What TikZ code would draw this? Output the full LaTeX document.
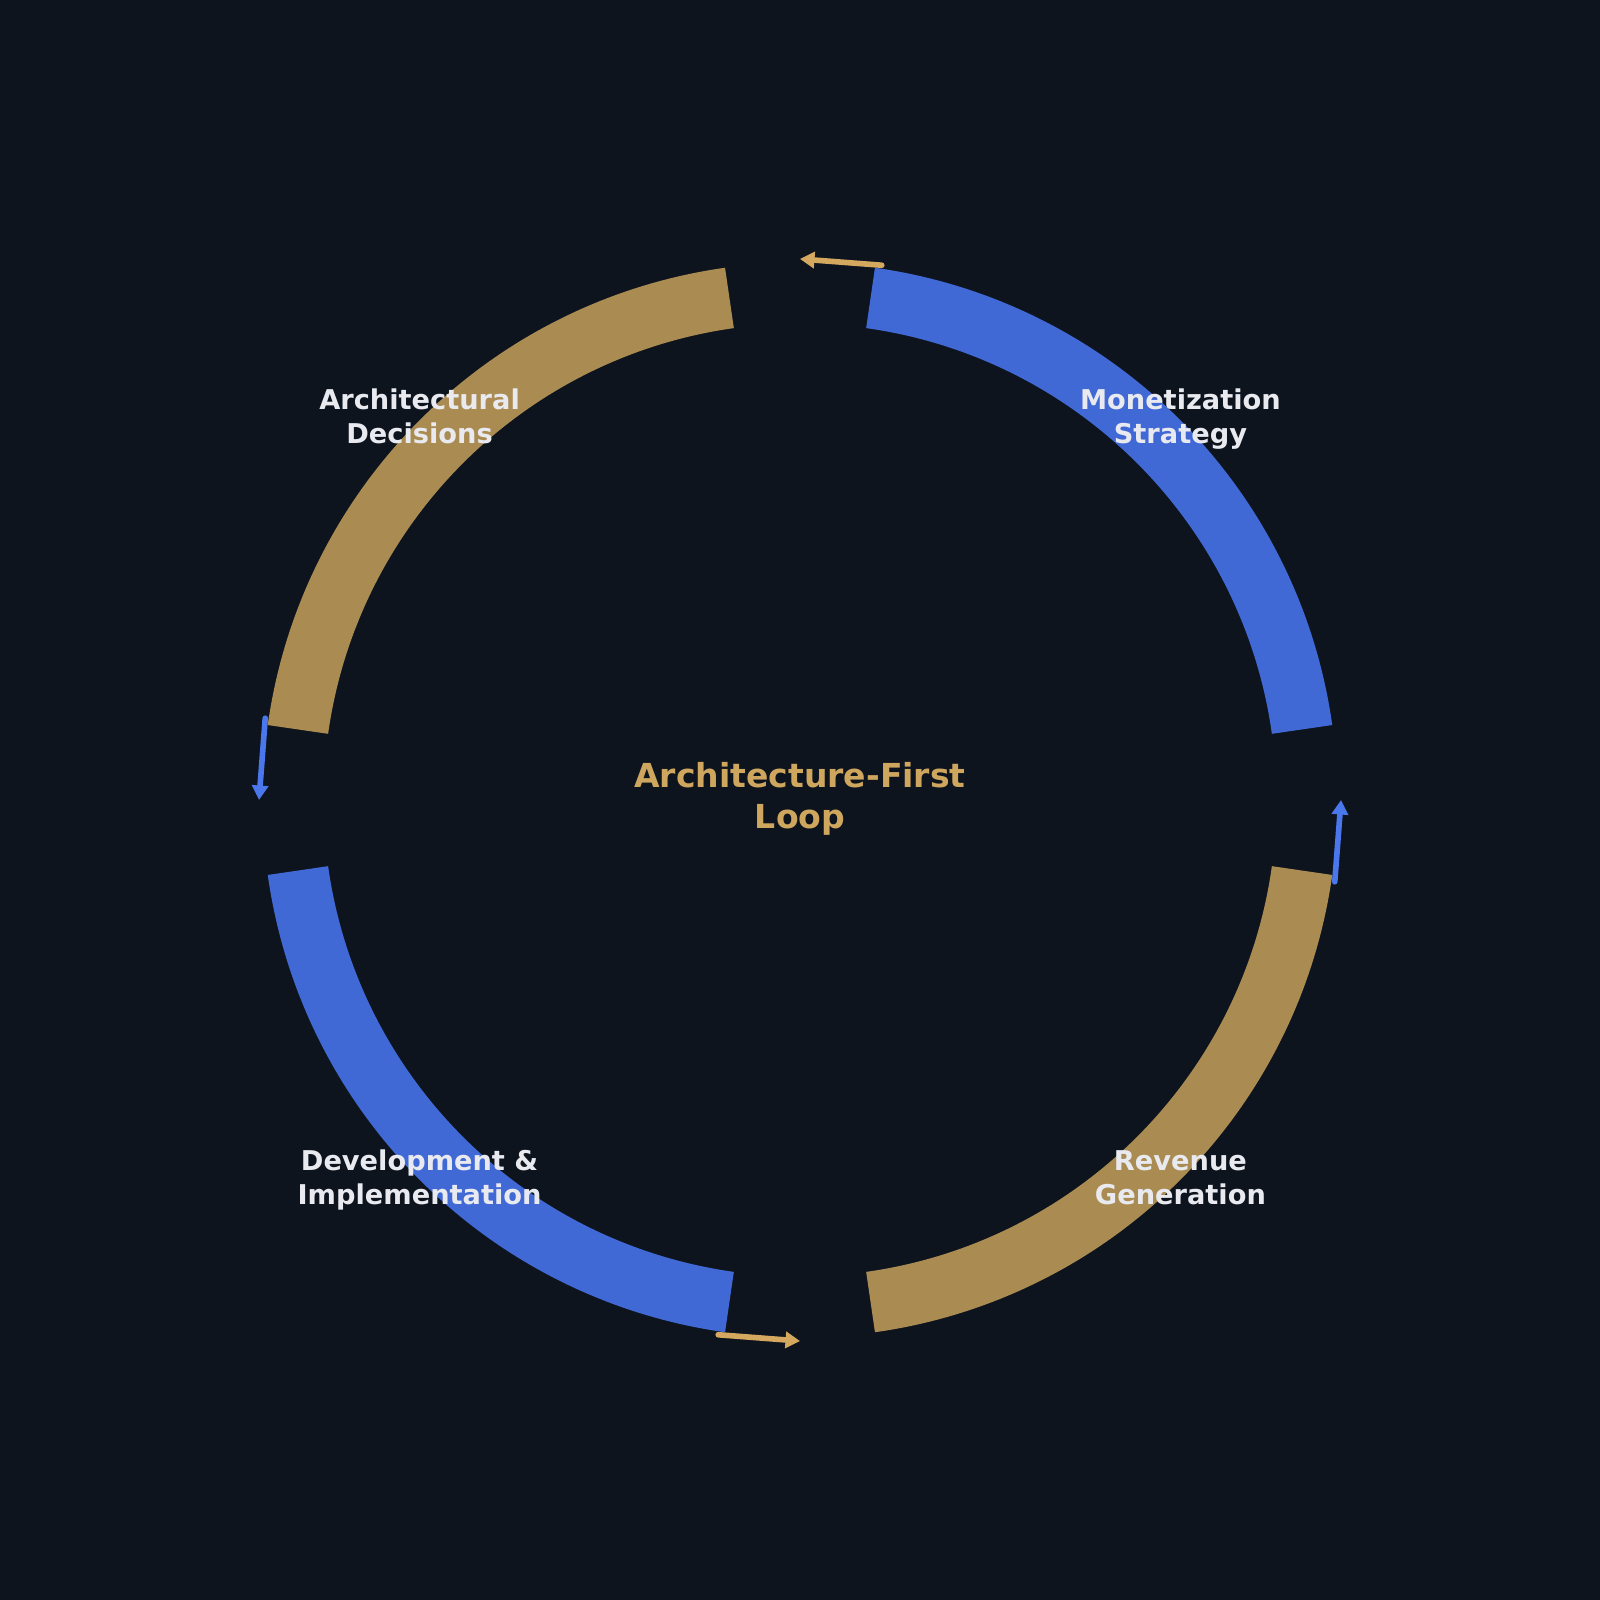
\documentclass[tikz,border=0pt]{standalone}
\usepackage{fontspec}
\setmainfont{DejaVu Sans}
\usetikzlibrary{arrows.meta}
\definecolor{bgdark}{HTML}{0D141E}
\definecolor{ringgold}{HTML}{AA8B52}
\definecolor{ringblue}{HTML}{4169D6}
\definecolor{tipgold}{HTML}{D4A95F}
\definecolor{tipblue}{HTML}{4A78EC}
\definecolor{titlegold}{HTML}{CFA65E}
\definecolor{labelwhite}{HTML}{E8EAF0}

\begin{document}
\begin{tikzpicture}[
  ring/.style={line width=6.1mm},
  flow/.style={line width=1.6pt,line cap=round,-{Triangle[length=1.45mm,width=1.6mm]}},
  stage/.style={text=labelwhite,align=center,font=\bfseries\fontsize{7.75}{9.8}\selectfont}
]
\pgfmathsetmacro\r{5.07}
\pgfmathsetmacro\ra{5.41}
\pgfmathsetmacro\rl{5.38}
\fill[bgdark] (-8,-8) rectangle (8,8);
\useasboundingbox (-8,-8) rectangle (8,8);
% ring segments
\draw[ring,ringblue] (8:\r) arc (8:82:\r);
\draw[ring,ringgold] (98:\r) arc (98:172:\r);
\draw[ring,ringblue] (188:\r) arc (188:262:\r);
\draw[ring,ringgold] (278:\r) arc (278:352:\r);
% arrow ends in the gaps
\coordinate (monEnd) at (81.3:\ra);
\coordinate (gapTop) at (90:\ra);
\coordinate (archEnd) at (171.3:\ra);
\coordinate (gapLeft) at (180:\ra);
\coordinate (devEnd) at (261.3:\ra);
\coordinate (gapBottom) at (270:\ra);
\coordinate (revEnd) at (351.3:\ra);
\coordinate (gapRight) at (0:\ra);
\draw[flow,tipgold] (monEnd) -- (gapTop);
\draw[flow,tipblue] (archEnd) -- (gapLeft);
\draw[flow,tipgold] (devEnd) -- (gapBottom);
\draw[flow,tipblue] (revEnd) -- (gapRight);
% labels
\node[stage] (arch) at (135:\rl) {Architectural\strut\\Decisions\strut};
\node[stage] (mon) at (45:\rl) {Monetization\strut\\Strategy\strut};
\node[stage] (rev) at (-45:\rl) {Revenue\strut\\Generation\strut};
\node[stage] (dev) at (-135:\rl) {Development \&\strut\\Implementation\strut};
\node[text=titlegold,align=center,font=\bfseries\fontsize{9.4}{11.6}\selectfont] (loop) at (0,0) {Architecture-First\strut\\Loop\strut};
\end{tikzpicture}
\end{document}
